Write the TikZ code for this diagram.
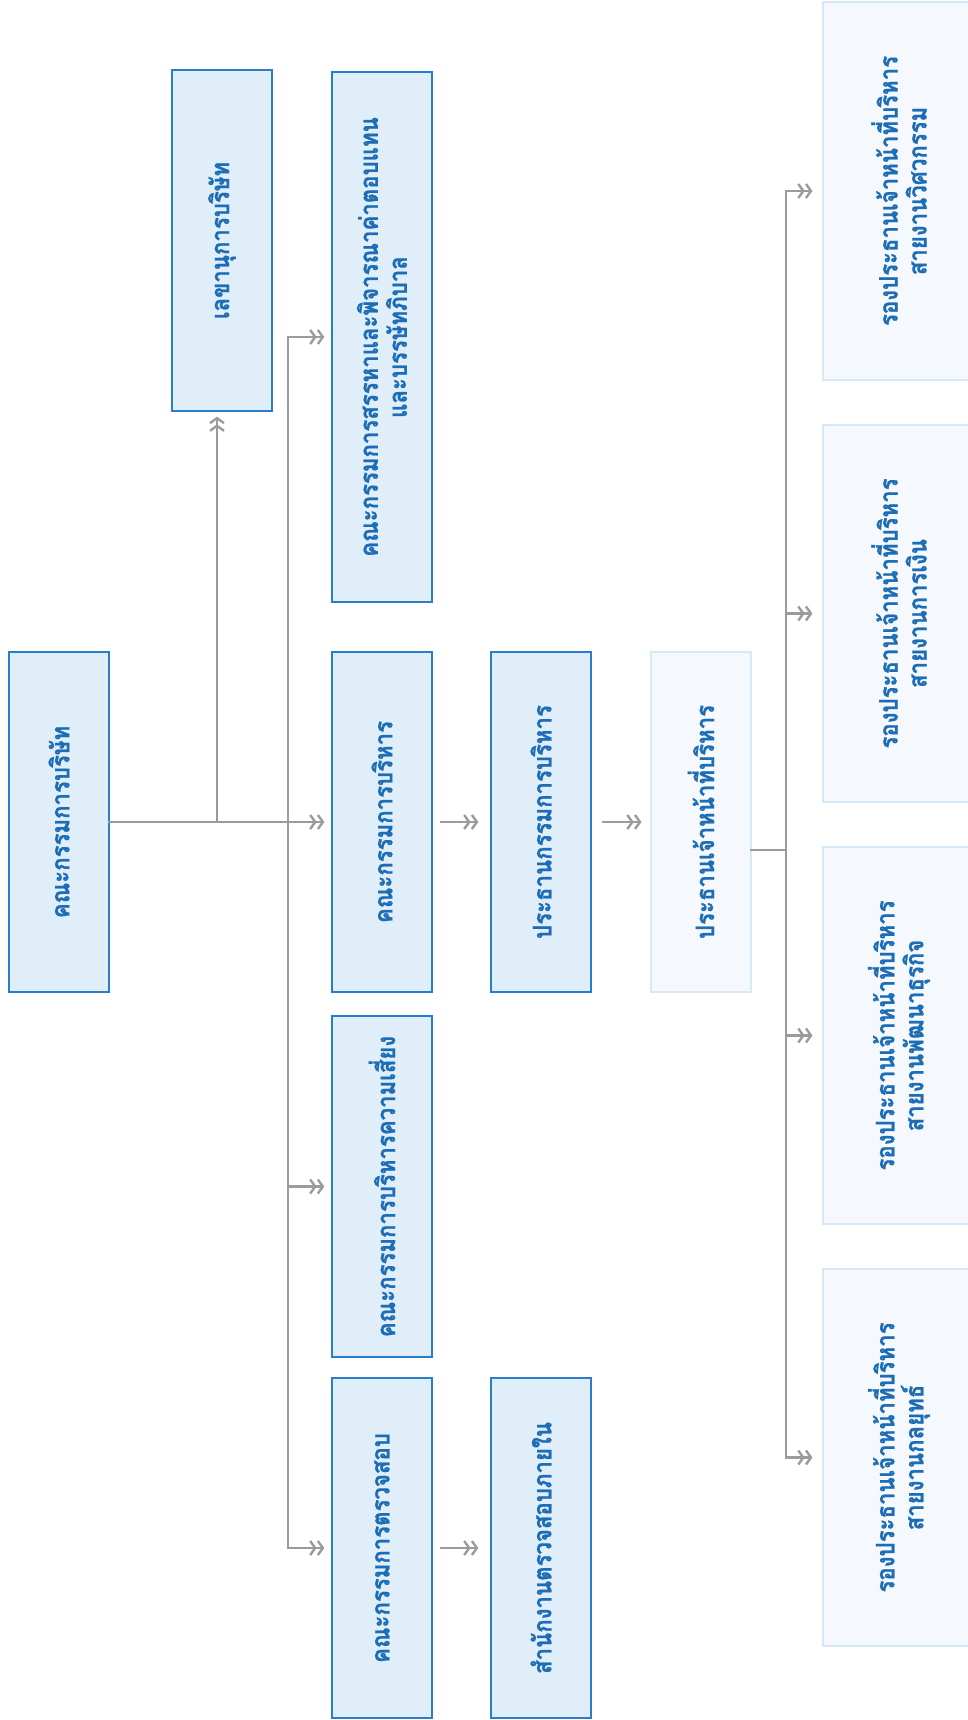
\documentclass[tikz,border=0pt]{standalone}
\usepackage{fontspec}
\newfontfamily\thaifont[Script=Thai,FakeStretch=0.87,FakeBold=0.8]{Loma}
\usetikzlibrary{arrows.meta,calc}
\definecolor{txtblue}{HTML}{1D6DB6}
\definecolor{darkfill}{HTML}{DFEEF9}
\definecolor{darkedge}{HTML}{2A7DC8}
\definecolor{lightfill}{HTML}{F5F9FD}
\definecolor{lightedge}{HTML}{D5E9F8}
\definecolor{linegray}{HTML}{9B9B9E}
\begin{document}
\begin{tikzpicture}[x=1pt,y=-1pt,
 box/.style={rectangle, rotate=90, fill=darkfill, draw=darkedge, line width=1.3pt,
   minimum height=100pt, inner sep=0pt, align=center, text=txtblue,
   font=\thaifont\bfseries\fontsize{25.5}{29}\selectfont},
 lbox/.style={box, fill=lightfill, draw=lightedge, line width=1.1pt},
 conn/.style={draw=linegray, line width=2.4pt, line cap=rect,
   -{Straight Barb[length=5pt,width=14pt] Straight Barb[length=5pt,width=14pt]}},
 plain/.style={draw=linegray, line width=2.4pt, line cap=rect}]
\useasboundingbox (0,0) rectangle (968,1720);
\fill[white] (0,0) rectangle (968,1720);

\node[box, minimum width=340pt] (board) at (59,822) {คณะกรรมการบริษัท};
\node[box, minimum width=341pt] (sec) at (222,240.5) {เลขานุการบริษัท};
\node[box, minimum width=530pt] (nom) at (382,337) {คณะกรรมการสรรหาและพิจารณาค่าตอบแทน\\และบรรษัทภิบาล};
\node[box, minimum width=340pt] (exec) at (382,822) {คณะกรรมการบริหาร};
\node[box, minimum width=341pt] (risk) at (382,1186.5) {คณะกรรมการบริหารความเสี่ยง};
\node[box, minimum width=340pt] (audit) at (382,1548) {คณะกรรมการตรวจสอบ};
\node[box, minimum width=340pt] (chair) at (541,822) {ประธานกรรมการบริหาร};
\node[box, minimum width=340pt] (ia) at (541,1548) {สำนักงานตรวจสอบภายใน};
\node[lbox, minimum width=340pt] (ceo) at (701,822) {ประธานเจ้าหน้าที่บริหาร};
\node[lbox, minimum width=378pt, minimum height=152pt] (vp1) at (899,191) {รองประธานเจ้าหน้าที่บริหาร\\สายงานวิศวกรรม};
\node[lbox, minimum width=377pt, minimum height=152pt] (vp2) at (899,613.5) {รองประธานเจ้าหน้าที่บริหาร\\สายงานการเงิน};
\node[lbox, minimum width=377pt, minimum height=152pt] (vp3) at (899,1035.5) {รองประธานเจ้าหน้าที่บริหาร\\สายงานพัฒนาธุรกิจ};
\node[lbox, minimum width=377pt, minimum height=152pt] (vp4) at (899,1457.5) {รองประธานเจ้าหน้าที่บริหาร\\สายงานกลยุทธ์};

% board level connectors
\coordinate (j1) at (217,822);
\coordinate (b) at (288,822);
\draw[conn, shorten >=7pt] (board.south) -- (exec.north);
\draw[conn, shorten >=5pt] (j1) -- (j1 |- sec.west);
\draw[plain] (b |- nom.north) -- (b |- audit.north);
\draw[conn, shorten >=7pt] (b |- nom.north) -- (nom.north);
\draw[conn, shorten >=7pt] (b |- risk.north) -- (risk.north);
\draw[conn, shorten >=7pt] (b |- audit.north) -- (audit.north);

% chains
\draw[conn, shorten <=9pt, shorten >=12pt] (exec.south) -- (chair.north);
\draw[conn, shorten <=9pt, shorten >=12pt] (audit.south) -- (ia.north);
\draw[conn, shorten <=12pt, shorten >=9pt] (chair.south) -- (ceo.north);

% CEO to VPs
\coordinate (c) at ($(ceo.south)+(0,28)$);
\coordinate (vb) at (786,850);
\draw[plain] (c) -- (vb);
\draw[plain] (vb |- vp1.north) -- (vb |- vp4.north);
\draw[conn, shorten >=10pt] (vb |- vp1.north) -- (vp1.north);
\draw[conn, shorten >=10pt] (vb |- vp2.north) -- (vp2.north);
\draw[conn, shorten >=10pt] (vb |- vp3.north) -- (vp3.north);
\draw[conn, shorten >=10pt] (vb |- vp4.north) -- (vp4.north);
\end{tikzpicture}
\end{document}
